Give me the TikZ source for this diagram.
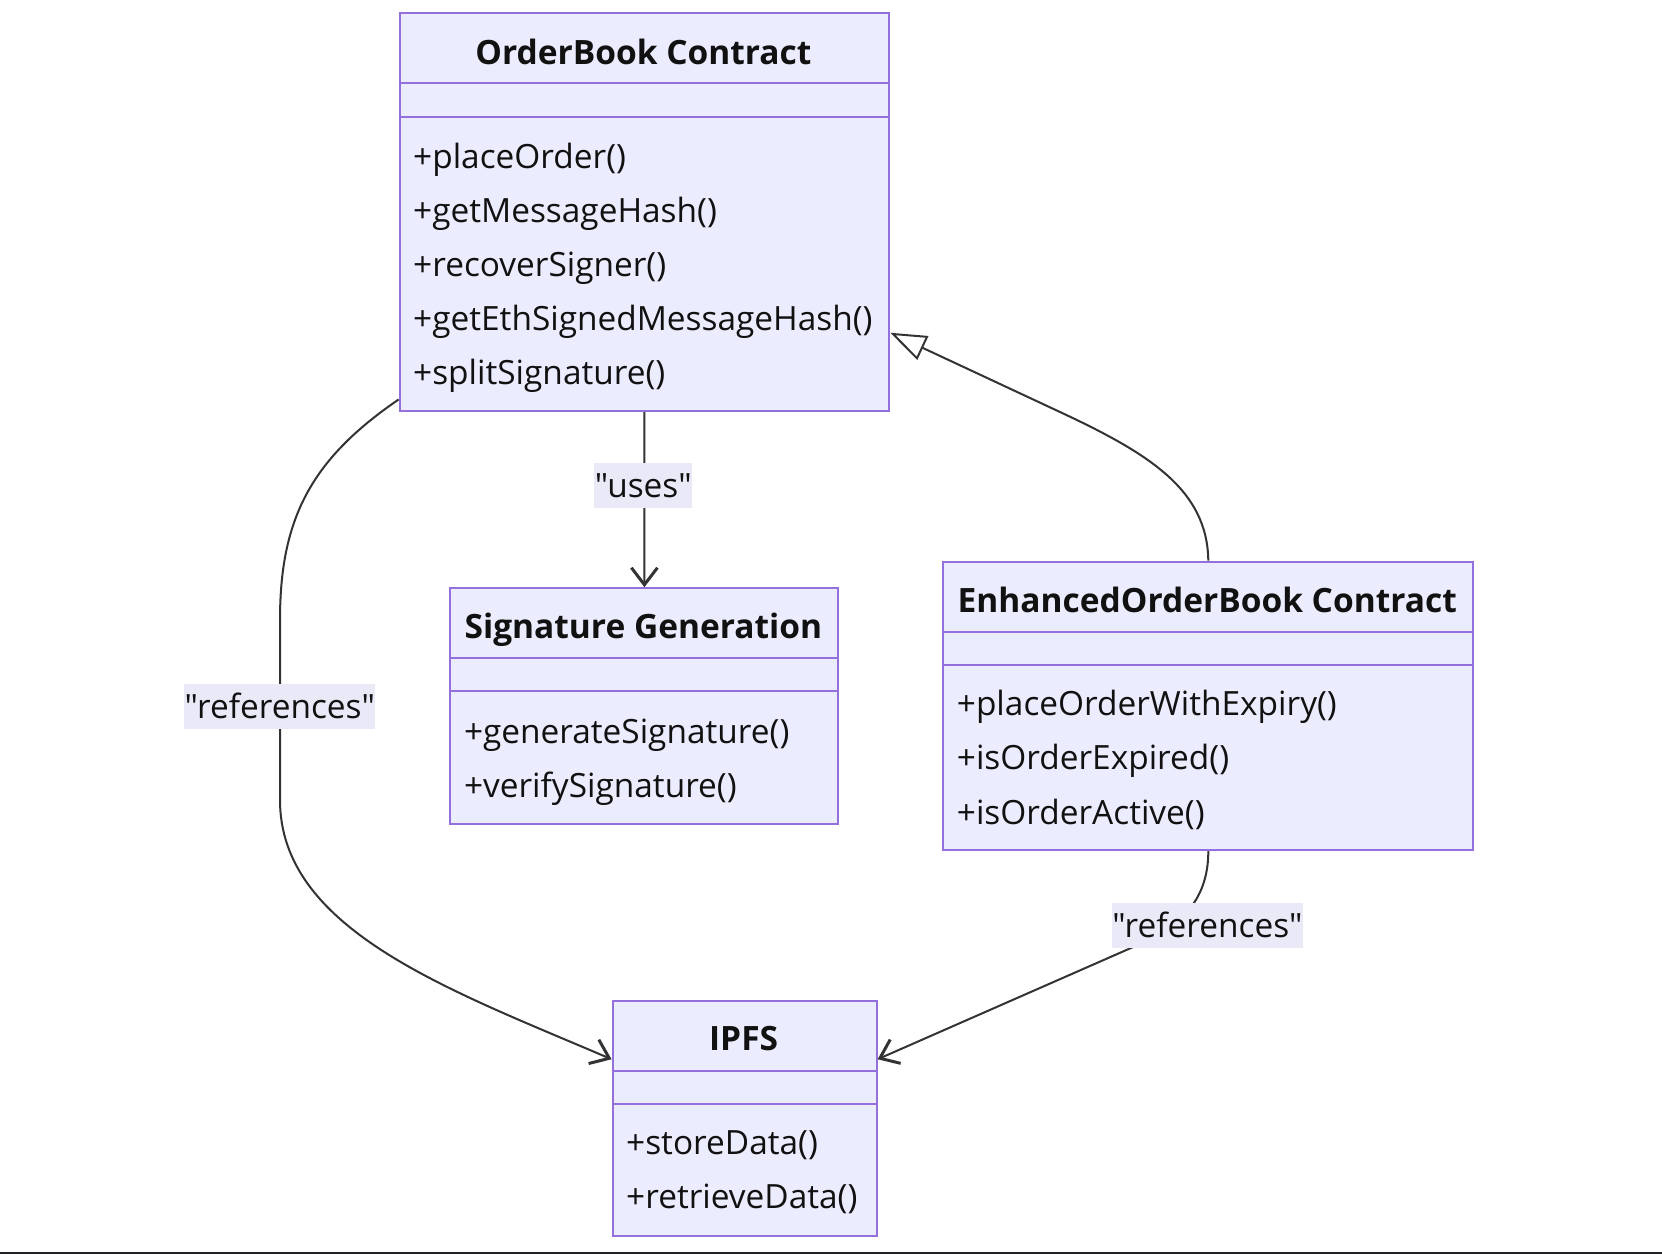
\documentclass[tikz,border=0pt]{standalone}
\usepackage{fontspec}
\setmainfont{Open Sans}[Ligatures=TeXOff]
\usetikzlibrary{arrows.meta}
\definecolor{boxc}{HTML}{9370DB}
\definecolor{boxf}{HTML}{ECECFF}
\definecolor{edgec}{HTML}{333333}
\definecolor{lblf}{HTML}{E9E9F8}
\definecolor{txt}{HTML}{111111}
\definecolor{band}{HTML}{1E2227}
\tikzset{
  cls/.style={draw=boxc, fill=boxf, line width=2pt, rectangle, inner sep=0pt, anchor=north west},
  divl/.style={draw=boxc, line width=2pt},
  hdr/.style={font=\bfseries\fontsize{33.5}{40}\selectfont, text=txt, inner sep=0pt, anchor=base},
  mth/.style={font=\fontsize{33.4}{40}\selectfont, text=txt, inner sep=0pt, anchor=base west},
  lbl/.style={fill=lblf, font=\fontsize{33.4}{40}\selectfont, text=txt, inner xsep=0.5pt, inner ysep=0pt, text height=24pt, text depth=0pt, minimum height=45pt},
  conn/.style={draw=edgec, line width=2pt},
  vee/.style={-{Straight Barb[length=17pt,width=26pt,line width=3pt]}},
  inh/.style={-{Triangle[open, length=36pt, width=26pt]}}
}
\begin{document}
\begin{tikzpicture}[x=1pt,y=-1pt]
\useasboundingbox (0,0) rectangle (1662,1254);
\fill[white] (0,0) rectangle (1662,1254);
\fill[band] (0,1251.7) rectangle (1662,1254);

% OrderBook Contract
\node[cls, minimum width=489.7pt, minimum height=397.9pt] (ob) at (398.6,12.3) {};
\draw[divl] (ob.west |- 0,82.7) -- (ob.east |- 0,82.7);
\draw[divl] (ob.west |- 0,116.7) -- (ob.east |- 0,116.7);
\node[hdr] (obh) at (643.45,64) {OrderBook Contract};
\node[mth] (ob1) at (413,168) {+placeOrder()};
\node[mth] (ob2) at (413,222) {+getMessageHash()};
\node[mth] (ob3) at (413,276) {+recoverSigner()};
\node[mth] (ob4) at (413,330) {+getEthSignedMessageHash()};
\node[mth] (ob5) at (413,384) {+splitSignature()};

% Signature Generation
\node[cls, minimum width=388pt, minimum height=235.4pt] (sg) at (449.4,587.2) {};
\draw[divl] (sg.west |- 0,658.3) -- (sg.east |- 0,658.3);
\draw[divl] (sg.west |- 0,691.1) -- (sg.east |- 0,691.1);
\node[hdr] (sgh) at (643.4,638.5) {Signature Generation};
\node[mth] (sg1) at (463.8,743.4) {+generateSignature()};
\node[mth] (sg2) at (463.8,797.5) {+verifySignature()};

% EnhancedOrderBook Contract
\node[cls, minimum width=530pt, minimum height=288.4pt] (eob) at (942.3,560.7) {};
\draw[divl] (eob.west |- 0,631.8) -- (eob.east |- 0,631.8);
\draw[divl] (eob.west |- 0,664.6) -- (eob.east |- 0,664.6);
\node[hdr] (eobh) at (1207.3,612) {EnhancedOrderBook Contract};
\node[mth] (eob1) at (956.7,715.8) {+placeOrderWithExpiry()};
\node[mth] (eob2) at (956.7,769.9) {+isOrderExpired()};
\node[mth] (eob3) at (956.7,824) {+isOrderActive()};

% IPFS
\node[cls, minimum width=264pt, minimum height=235.3pt] (ipfs) at (611.6,999.6) {};
\draw[divl] (ipfs.west |- 0,1070.6) -- (ipfs.east |- 0,1070.6);
\draw[divl] (ipfs.west |- 0,1103.5) -- (ipfs.east |- 0,1103.5);
\node[hdr] (ipfsh) at (743.6,1050.8) {IPFS};
\node[mth] (ipfs1) at (626,1154.7) {+storeData()};
\node[mth] (ipfs2) at (626,1208.7) {+retrieveData()};

% connectors
\draw[conn, vee] (ob.south) -- (sg.north);
\node[lbl] (luses) at (643.3,485.5) {"uses"};

\draw[conn, vee] ([yshift=12.7pt]ob.south west) .. controls (310,460) and (280,520) .. (280,620)
  -- (280,800) .. controls (280,930) and (450,990) .. ([yshift=59pt]ipfs.west);
\node[lbl] (lrefl) at (279.8,706) {"references"};

\draw[conn, inh] (eob.north) .. controls (1207.3,490) and (1150,454) .. (1060,412)
  -- ([yshift=-120.5pt]ob.east);

\draw[conn, vee] (eob.south) .. controls +(0,40) and +(50,-21.5) .. (1140,944)
  -- ([yshift=59pt]ipfs.east);
\node[lbl] (lrefr) at (1207.4,925.3) {"references"};
\end{tikzpicture}
\end{document}
